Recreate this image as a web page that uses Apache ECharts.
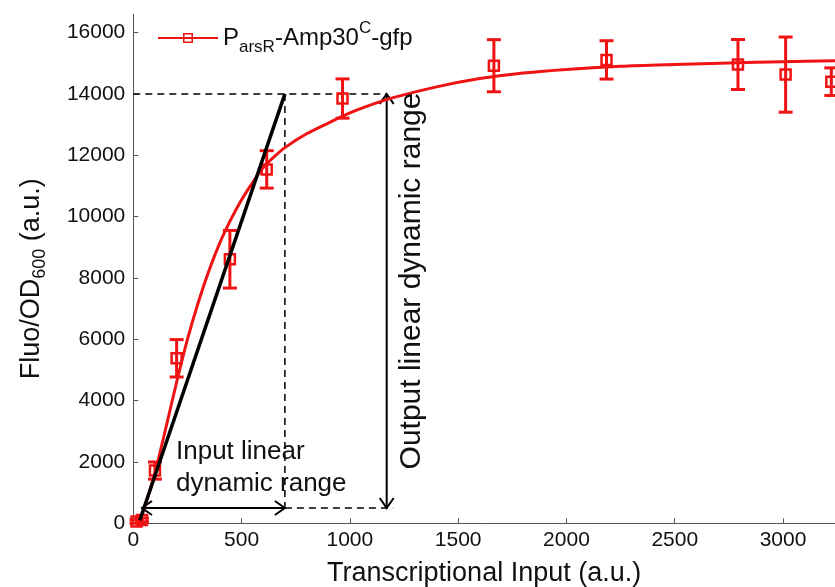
<!DOCTYPE html>
<html>
<head>
<meta charset="utf-8">
<script src="https://cdn.jsdelivr.net/npm/echarts@6/dist/echarts.min.js"></script>
<style>
html,body{margin:0;padding:0;background:#fff;}
#chart{width:835px;height:587px;}
</style>
</head>
<body>
<div id="chart"></div>
<script>
// ---- data ----
const xTicks = [0, 500, 1000, 1500, 2000, 2500, 3000];
const yTicks = [0, 2000, 4000, 6000, 8000, 10000, 12000, 14000, 16000];

// measured points with error bars
const pointX   = [15, 40, 100, 200, 446, 616, 966, 1665, 2185, 2792, 3012, 3223];
const pointY   = [60, 110, 1720, 5380, 8610, 11540, 13850, 14920, 15110, 14960, 14630, 14400];
const pointErr = [60, 60, 280, 610, 940, 610, 640, 850, 625, 815, 1225, 450];

// fitted curve
const curveX = [30, 60, 100, 150, 200, 250, 300, 350, 400, 450, 500, 550, 600, 650, 700, 800, 900, 1000, 1100, 1200, 1400, 1600, 1800, 2000, 2250, 2500, 2750, 3000, 3240];
const curveY = [50, 700, 1650, 3100, 4600, 6000, 7200, 8250, 9150, 9900, 10550, 11100, 11600, 11950, 12250, 12700, 13050, 13380, 13650, 13880, 14230, 14500, 14680, 14800, 14900, 14960, 15010, 15050, 15080];

// linear tangent line
const tangentX = [30, 700];
const tangentY = [100, 14000];

// dashed guide segments [x1, y1, x2, y2]
const dashedSegs = [
  [0, 14000, 1170, 14000],
  [700, 14000, 700, 500],
  [700, 500, 1200, 500]
];
// double-headed arrows [x1, y1, x2, y2]
const arrowSegs = [
  [40, 500, 700, 500],
  [1170, 500, 1170, 14000]
];

const seriesName = 'ParsR-Amp30C-gfp';
const RED = '#ef1313';
const FONT = 'Liberation Sans, Arial, sans-serif';

const chart = echarts.init(document.getElementById('chart'), null, {renderer: 'canvas'});

function chevron(px, py, dx, dy, len, half) {
  const bx = px - dx * len, by = py - dy * len;
  const nx = -dy, ny = dx;
  return [[bx + nx * half, by + ny * half], [px, py], [bx - nx * half, by - ny * half]];
}
const plain = v => String(v);

const option = {
  animation: false,
  backgroundColor: '#fff',
  grid: {left: 133.3, right: 0, top: 14.2, bottom: 63.7, containLabel: false, outerBoundsMode: 'none'},
  legend: {
    left: 158, top: 20, padding: 0,
    itemWidth: 60, itemHeight: 10, itemGap: 10,
    data: [{name: seriesName, icon: 'path://M0,4 L60,4 L60,6 L0,6 Z M25,0 L35,0 L35,10 L25,10 Z M26.5,1.5 L26.5,8.5 L33.5,8.5 L33.5,1.5 Z'}],
    formatter: function () { return '{m|P}{s|arsR}{m|-Amp30}{u|C}{m|-gfp}'; },
    textStyle: {
      color: '#111', fontFamily: FONT, fontSize: 24,
      rich: {
        m: {fontSize: 24, fontFamily: FONT, color: '#111', lineHeight: 36, verticalAlign: 'middle'},
        s: {fontSize: 17, fontFamily: FONT, color: '#111', lineHeight: 17, verticalAlign: 'bottom'},
        u: {fontSize: 17, fontFamily: FONT, color: '#111', lineHeight: 17, verticalAlign: 'top'}
      }
    }
  },
  xAxis: {
    type: 'value', min: 0, max: 3240,
    name: 'Transcriptional Input (a.u.)', nameLocation: 'middle', nameGap: 37,
    nameTextStyle: {fontSize: 27, fontFamily: FONT, color: '#111'},
    axisLine: {lineStyle: {color: '#555', width: 1}},
    axisTick: {inside: true, length: 5, customValues: xTicks, lineStyle: {color: '#555'}},
    axisLabel: {customValues: xTicks, formatter: plain, fontSize: 21, fontFamily: FONT, color: '#111', margin: 6},
    splitLine: {show: false}
  },
  yAxis: {
    type: 'value', min: 0, max: 16600,
    name: '{m|Fluo/OD}{s|600}{m| (a.u.)}', nameLocation: 'middle', nameGap: 84, nameRotate: 90,
    nameTextStyle: {
      fontSize: 27, fontFamily: FONT, color: '#111', padding: [0, 20, 0, 0],
      rich: {
        m: {fontSize: 27, fontFamily: FONT, color: '#111', lineHeight: 36, verticalAlign: 'middle'},
        s: {fontSize: 18, fontFamily: FONT, color: '#111', lineHeight: 18, verticalAlign: 'bottom'}
      }
    },
    axisLine: {show: true, lineStyle: {color: '#555', width: 1}},
    axisTick: {show: true, inside: true, length: 5, customValues: yTicks, lineStyle: {color: '#555'}},
    axisLabel: {customValues: yTicks, formatter: plain, fontSize: 21, fontFamily: FONT, color: '#111', margin: 8},
    splitLine: {show: false}
  },
  graphic: [
    {type: 'text', left: 176, top: 436, z: 100,
     style: {text: 'Input linear\ndynamic range', font: '26px ' + FONT, fill: '#111', lineHeight: 32}},
    {type: 'text', x: 412, y: 281, rotation: Math.PI / 2, z: 100,
     style: {text: 'Output linear dynamic range', font: '30px ' + FONT, fill: '#111', align: 'center', verticalAlign: 'middle'}}
  ],
  series: [
    {
      name: seriesName, type: 'line', smooth: 0.3, showSymbol: false,
      data: curveX.map((x, i) => [x, curveY[i]]),
      lineStyle: {color: RED, width: 3}, itemStyle: {color: RED}, z: 3
    },
    {
      name: 'errors', type: 'custom', z: 4,
      data: pointX.map((x, i) => [x, pointY[i], pointErr[i]]),
      renderItem: function (params, api) {
        const x = api.value(0), y = api.value(1), e = api.value(2);
        const c = api.coord([x, y]);
        const t = api.coord([x, y + e]);
        const b = api.coord([x, y - e]);
        const cap = 7, s = 5;
        return {type: 'group', children: [
          {type: 'line', shape: {x1: c[0], y1: t[1], x2: c[0], y2: b[1]}, style: {stroke: RED, lineWidth: 3}},
          {type: 'line', shape: {x1: c[0] - cap, y1: t[1], x2: c[0] + cap, y2: t[1]}, style: {stroke: RED, lineWidth: 3}},
          {type: 'line', shape: {x1: c[0] - cap, y1: b[1], x2: c[0] + cap, y2: b[1]}, style: {stroke: RED, lineWidth: 3}},
          {type: 'rect', shape: {x: c[0] - s, y: c[1] - s, width: 2 * s, height: 2 * s}, style: {fill: 'rgba(0,0,0,0)', stroke: RED, lineWidth: 2.5}}
        ]};
      }
    },
    {
      name: 'tangent', type: 'line', showSymbol: false, z: 5,
      data: tangentX.map((x, i) => [x, tangentY[i]]),
      lineStyle: {color: '#000', width: 3.5}
    },
    {
      name: 'dashed', type: 'custom', z: 2,
      data: dashedSegs,
      renderItem: function (params, api) {
        const p1 = api.coord([api.value(0), api.value(1)]);
        const p2 = api.coord([api.value(2), api.value(3)]);
        return {type: 'line', shape: {x1: p1[0], y1: p1[1], x2: p2[0], y2: p2[1]},
          style: {stroke: '#000', lineWidth: 1.5, lineDash: [7, 5]}};
      }
    },
    {
      name: 'arrows', type: 'custom', z: 2,
      data: arrowSegs,
      renderItem: function (params, api) {
        const p1 = api.coord([api.value(0), api.value(1)]);
        const p2 = api.coord([api.value(2), api.value(3)]);
        const dx = p2[0] - p1[0], dy = p2[1] - p1[1];
        const L = Math.sqrt(dx * dx + dy * dy);
        const ux = dx / L, uy = dy / L;
        return {type: 'group', children: [
          {type: 'line', shape: {x1: p1[0], y1: p1[1], x2: p2[0], y2: p2[1]}, style: {stroke: '#000', lineWidth: 2}},
          {type: 'polyline', shape: {points: chevron(p2[0], p2[1], ux, uy, 10, 7)}, style: {stroke: '#000', lineWidth: 2, fill: null}},
          {type: 'polyline', shape: {points: chevron(p1[0], p1[1], -ux, -uy, 10, 7)}, style: {stroke: '#000', lineWidth: 2, fill: null}}
        ]};
      }
    }
  ]
};
chart.setOption(option);
</script>
</body>
</html>
